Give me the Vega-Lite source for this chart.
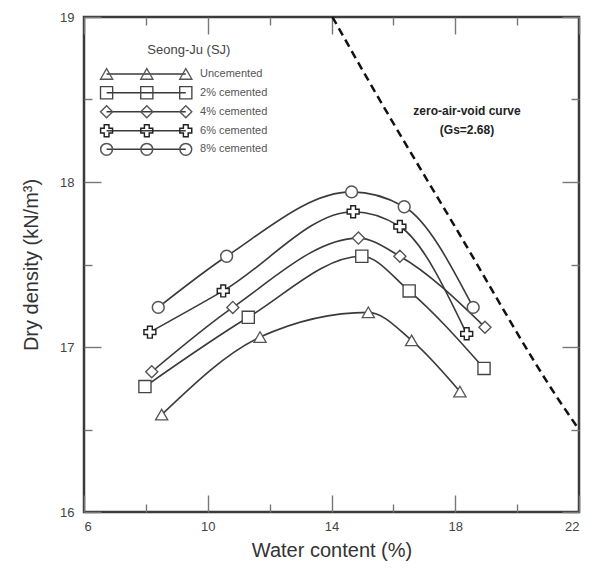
{
  "$schema": "https://vega.github.io/schema/vega-lite/v6.json",
  "width": 495,
  "height": 495,
  "autosize": "none",
  "padding": {"left": 84, "top": 17, "right": 19, "bottom": 58},
  "background": "white",
  "config": {
    "view": {"stroke": "#3a3a3a", "strokeWidth": 2.5},
    "font": "Liberation Sans"
  },
  "datasets": {
    "pts": [
      {"series": "Uncemented", "w": 8.51, "d": 16.59},
      {"series": "Uncemented", "w": 11.69, "d": 17.06},
      {"series": "Uncemented", "w": 15.19, "d": 17.21},
      {"series": "Uncemented", "w": 16.59, "d": 17.04},
      {"series": "Uncemented", "w": 18.15, "d": 16.73},
      {"series": "2% cemented", "w": 7.97, "d": 16.76},
      {"series": "2% cemented", "w": 11.31, "d": 17.18},
      {"series": "2% cemented", "w": 14.98, "d": 17.55},
      {"series": "2% cemented", "w": 16.51, "d": 17.34},
      {"series": "2% cemented", "w": 18.93, "d": 16.87},
      {"series": "4% cemented", "w": 8.19, "d": 16.85},
      {"series": "4% cemented", "w": 10.81, "d": 17.24},
      {"series": "4% cemented", "w": 14.87, "d": 17.66},
      {"series": "4% cemented", "w": 16.21, "d": 17.55},
      {"series": "4% cemented", "w": 18.96, "d": 17.12},
      {"series": "6% cemented", "w": 8.13, "d": 17.09},
      {"series": "6% cemented", "w": 10.5, "d": 17.34},
      {"series": "6% cemented", "w": 14.7, "d": 17.82},
      {"series": "6% cemented", "w": 16.21, "d": 17.73},
      {"series": "6% cemented", "w": 18.37, "d": 17.08},
      {"series": "8% cemented", "w": 8.4, "d": 17.24},
      {"series": "8% cemented", "w": 10.61, "d": 17.55},
      {"series": "8% cemented", "w": 14.65, "d": 17.94},
      {"series": "8% cemented", "w": 16.35, "d": 17.85},
      {"series": "8% cemented", "w": 18.58, "d": 17.24}
    ],
    "zav": [
      {"w": 14.03, "d": 19.0},
      {"w": 15.18, "d": 18.62},
      {"w": 17.99, "d": 17.73},
      {"w": 21.38, "d": 16.67},
      {"w": 22.0, "d": 16.5}
    ],
    "leg": [
      {"series": "Uncemented", "w": 6.73, "d": 18.655},
      {"series": "Uncemented", "w": 8.03, "d": 18.655},
      {"series": "Uncemented", "w": 9.29, "d": 18.655},
      {"series": "2% cemented", "w": 6.73, "d": 18.541},
      {"series": "2% cemented", "w": 8.03, "d": 18.541},
      {"series": "2% cemented", "w": 9.29, "d": 18.541},
      {"series": "4% cemented", "w": 6.73, "d": 18.426},
      {"series": "4% cemented", "w": 8.03, "d": 18.426},
      {"series": "4% cemented", "w": 9.29, "d": 18.426},
      {"series": "6% cemented", "w": 6.73, "d": 18.311},
      {"series": "6% cemented", "w": 8.03, "d": 18.311},
      {"series": "6% cemented", "w": 9.29, "d": 18.311},
      {"series": "8% cemented", "w": 6.73, "d": 18.198},
      {"series": "8% cemented", "w": 8.03, "d": 18.198},
      {"series": "8% cemented", "w": 9.29, "d": 18.198}
    ],
    "legtext": [
      {"label": "Uncemented", "w": 9.75, "d": 18.655},
      {"label": "2% cemented", "w": 9.75, "d": 18.541},
      {"label": "4% cemented", "w": 9.75, "d": 18.426},
      {"label": "6% cemented", "w": 9.75, "d": 18.311},
      {"label": "8% cemented", "w": 9.75, "d": 18.198}
    ],
    "legtitle": [
      {"label": "Seong-Ju (SJ)", "w": 9.39, "d": 18.8}
    ],
    "notes": [
      {"label": "zero-air-void curve", "w": 18.38, "d": 18.43},
      {"label": "(Gs=2.68)", "w": 18.38, "d": 18.315}
    ]
  },
  "layer": [
    {
      "data": {"name": "zav"},
      "mark": {"type": "line", "interpolate": "monotone", "stroke": "#111", "strokeWidth": 2.5, "strokeDash": [8, 5]},
      "encoding": {
        "x": {
          "field": "w", "type": "quantitative",
          "scale": {"domain": [6, 22], "nice": false, "zero": false},
          "axis": {
            "orient": "bottom",
            "values": [6, 8, 10, 12, 14, 16, 18, 20, 22],
            "labelExpr": "datum.value % 4 == 2 ? format(datum.value, 'd') : ''",
            "ticks": true,
            "tickSize": {"condition": {"test": "datum.value % 4 == 2", "value": -17}, "value": -8},
            "tickColor": "#777",
            "tickWidth": 1.4,
            "domain": false,
            "grid": false,
            "labelPadding": 25,
            "labelFontSize": 13,
            "labelColor": "#444",
            "labelFont": "Liberation Sans",
            "title": "Water content (%)",
            "titleFont": "Liberation Sans",
            "titleFontSize": 20,
            "titleFontWeight": "normal",
            "titleColor": "#333",
            "titlePadding": 7
          }
        },
        "y": {
          "field": "d", "type": "quantitative",
          "scale": {"domain": [16, 19], "nice": false, "zero": false},
          "axis": {
            "orient": "left",
            "values": [16, 16.5, 17, 17.5, 18, 18.5, 19],
            "labelExpr": "datum.value % 1 == 0 ? format(datum.value, 'd') : ''",
            "ticks": true,
            "tickSize": {"condition": {"test": "datum.value % 1 == 0", "value": -17}, "value": -8},
            "tickColor": "#777",
            "tickWidth": 1.4,
            "domain": false,
            "grid": false,
            "labelPadding": 27,
            "labelFontSize": 13,
            "labelColor": "#444",
            "labelFont": "Liberation Sans",
            "title": "Dry density (kN/m³)",
            "titleFont": "Liberation Sans",
            "titleFontSize": 20,
            "titleFontWeight": "normal",
            "titleColor": "#333",
            "titlePadding": 18
          }
        }
      }
    },
    {
      "data": {"name": "pts"},
      "mark": {"type": "line", "interpolate": "monotone", "stroke": "#3a3a3a", "strokeWidth": 1.6},
      "encoding": {
        "x": {
          "field": "w", "type": "quantitative",
          "scale": {"domain": [6, 22], "nice": false, "zero": false},
          "axis": {
            "orient": "top",
            "values": [6, 8, 10, 12, 14, 16, 18, 20, 22],
            "labels": false,
            "ticks": true,
            "tickSize": {"condition": {"test": "datum.value % 4 == 2", "value": -17}, "value": -8},
            "tickColor": "#777",
            "tickWidth": 1.4,
            "domain": false,
            "grid": false,
            "title": null
          }
        },
        "y": {
          "field": "d", "type": "quantitative",
          "scale": {"domain": [16, 19], "nice": false, "zero": false},
          "axis": {
            "orient": "right",
            "values": [16, 16.5, 17, 17.5, 18, 18.5, 19],
            "labels": false,
            "ticks": true,
            "tickSize": {"condition": {"test": "datum.value % 1 == 0", "value": -17}, "value": -8},
            "tickColor": "#777",
            "tickWidth": 1.4,
            "domain": false,
            "grid": false,
            "title": null
          }
        },
        "detail": {"field": "series"}
      }
    },
    {
      "data": {"name": "pts"},
      "mark": {"type": "point", "filled": false, "fill": "white", "fillOpacity": 1, "strokeWidth": 1.4, "opacity": 1},
      "encoding": {
        "x": {"field": "w", "type": "quantitative", "axis": null},
        "y": {"field": "d", "type": "quantitative", "axis": null},
        "shape": {
          "field": "series", "type": "nominal",
          "scale": {"domain": ["Uncemented", "2% cemented", "4% cemented", "6% cemented", "8% cemented"], "range": ["triangle-up", "square", "diamond", "cross", "circle"]},
          "legend": null
        },
        "stroke": {
          "field": "series", "type": "nominal",
          "scale": {"domain": ["Uncemented", "2% cemented", "4% cemented", "6% cemented", "8% cemented"], "range": ["#555", "#444", "#555", "#222", "#555"]},
          "legend": null
        },
        "size": {
          "field": "series", "type": "nominal",
          "scale": {"domain": ["Uncemented", "2% cemented", "4% cemented", "6% cemented", "8% cemented"], "range": [150, 140, 150, 230, 140]},
          "legend": null
        },
        "strokeWidth": {
          "field": "series", "type": "nominal",
          "scale": {"domain": ["Uncemented", "2% cemented", "4% cemented", "6% cemented", "8% cemented"], "range": [1.3, 1.5, 1.3, 2.2, 1.3]},
          "legend": null
        }
      }
    },
    {
      "data": {"name": "leg"},
      "mark": {"type": "line", "stroke": "#3a3a3a", "strokeWidth": 1.5},
      "encoding": {
        "x": {"field": "w", "type": "quantitative", "axis": null},
        "y": {"field": "d", "type": "quantitative", "axis": null},
        "detail": {"field": "series"}
      }
    },
    {
      "data": {"name": "leg"},
      "mark": {"type": "point", "filled": false, "fill": "white", "fillOpacity": 0, "opacity": 1},
      "encoding": {
        "x": {"field": "w", "type": "quantitative", "axis": null},
        "y": {"field": "d", "type": "quantitative", "axis": null},
        "shape": {
          "field": "series", "type": "nominal",
          "scale": {"domain": ["Uncemented", "2% cemented", "4% cemented", "6% cemented", "8% cemented"], "range": ["triangle-up", "square", "diamond", "cross", "circle"]},
          "legend": null
        },
        "stroke": {
          "field": "series", "type": "nominal",
          "scale": {"domain": ["Uncemented", "2% cemented", "4% cemented", "6% cemented", "8% cemented"], "range": ["#555", "#444", "#555", "#222", "#555"]},
          "legend": null
        },
        "size": {
          "field": "series", "type": "nominal",
          "scale": {"domain": ["Uncemented", "2% cemented", "4% cemented", "6% cemented", "8% cemented"], "range": [150, 140, 150, 230, 140]},
          "legend": null
        },
        "strokeWidth": {
          "field": "series", "type": "nominal",
          "scale": {"domain": ["Uncemented", "2% cemented", "4% cemented", "6% cemented", "8% cemented"], "range": [1.3, 1.5, 1.3, 2.2, 1.3]},
          "legend": null
        }
      }
    },
    {
      "data": {"name": "legtext"},
      "mark": {"type": "text", "align": "left", "baseline": "middle", "fontSize": 11, "color": "#555", "font": "Liberation Sans"},
      "encoding": {
        "x": {"field": "w", "type": "quantitative", "axis": null},
        "y": {"field": "d", "type": "quantitative", "axis": null},
        "text": {"field": "label"}
      }
    },
    {
      "data": {"name": "legtitle"},
      "mark": {"type": "text", "align": "center", "baseline": "middle", "fontSize": 13, "color": "#444", "font": "Liberation Sans"},
      "encoding": {
        "x": {"field": "w", "type": "quantitative", "axis": null},
        "y": {"field": "d", "type": "quantitative", "axis": null},
        "text": {"field": "label"}
      }
    },
    {
      "data": {"name": "notes"},
      "mark": {"type": "text", "align": "center", "baseline": "middle", "fontSize": 12, "fontWeight": "bold", "color": "#222", "font": "Liberation Sans"},
      "encoding": {
        "x": {"field": "w", "type": "quantitative", "axis": null},
        "y": {"field": "d", "type": "quantitative", "axis": null},
        "text": {"field": "label"}
      }
    }
  ],
  "resolve": {"axis": {"x": "independent", "y": "independent"}}
}
